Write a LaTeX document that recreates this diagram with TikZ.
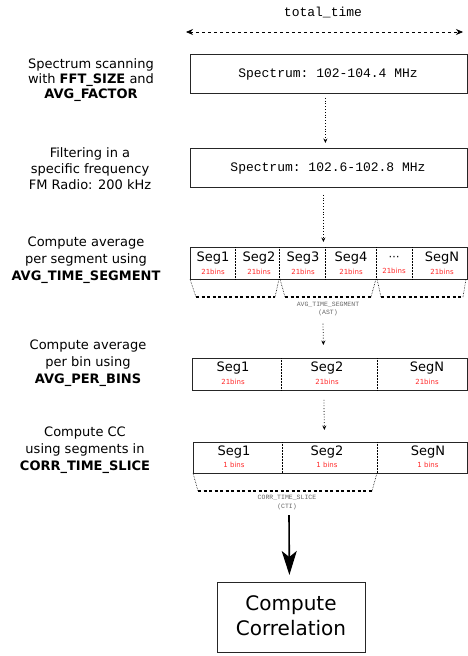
\documentclass[tikz,border=0pt]{standalone}
\usepackage{fontspec}
\setmainfont{DejaVu Sans}
\setmonofont{Liberation Mono}
\usetikzlibrary{arrows.meta}
\definecolor{binred}{RGB}{255,40,40}
\begin{document}
\begin{tikzpicture}[x=1pt,y=-1pt,
  box/.style={draw=black!85, line width=0.8pt, inner sep=0pt, anchor=north west},
  lbl/.style={align=center, inner sep=0pt, font=\fontsize{13}{16}\selectfont},
  segt/.style={inner sep=0pt, font=\fontsize{13}{15}\selectfont},
  bins/.style={inner sep=0pt, text=binred, font=\fontsize{7}{8}\selectfont},
  tinyt/.style={inner sep=0pt, text=black!60, font=\ttfamily\fontsize{6.5}{8}\selectfont},
  monot/.style={inner sep=0pt, font=\ttfamily\fontsize{13}{15}\selectfont},
  dotarr/.style={dotted, line width=0.8pt, -{Stealth[length=4.5pt,width=4pt]}},
  divl/.style={densely dotted, line width=0.5pt},
  brk/.style={line width=1.1pt, dash pattern=on 3pt off 2.5pt},
  slopel/.style={densely dotted, line width=0.6pt}]
\useasboundingbox (0,0) rectangle (468,656);

% top
\node[monot] (tt) at (323,12) {total\_time};
\coordinate (ttl) at (186,32);
\coordinate (ttr) at (463,32);
\draw[dashed, line width=0.7pt, {Stealth[length=7pt,width=6pt]}-{Stealth[length=7pt,width=6pt]}] (ttl) -- (ttr);

% left labels
\node[lbl, font=\fontsize{13}{15}\selectfont] (l1) at (91,80) {Spectrum scanning\\with \textbf{FFT\_SIZE} and\\\textbf{AVG\_FACTOR}};
\node[lbl] (l2) at (90,169) {Filtering in a\\specific frequency\\FM Radio: 200 kHz};
\node[lbl, font=\fontsize{13}{17}\selectfont] (l3) at (86,260) {Compute average\\per segment using\\\textbf{AVG\_TIME\_SEGMENT}};
\node[lbl, font=\fontsize{13}{17}\selectfont] (l4) at (88,363) {Compute average\\per bin using\\\textbf{AVG\_PER\_BINS}};
\node[lbl, font=\fontsize{13}{17}\selectfont] (l5) at (85,450) {Compute CC\\using segments in\\\textbf{CORR\_TIME\_SLICE}};

% spectrum boxes
\node[box, minimum width=277pt, minimum height=39pt] (b1) at (190,54) {};
\node[monot] (b1t) at (328,74) {Spectrum: 102-104.4 MHz};
\node[box, minimum width=277pt, minimum height=39pt] (b2) at (190,148) {};
\node[monot] (b2t) at (328,168) {Spectrum: 102.6-102.8 MHz};
\draw[dotarr] ([xshift=-3.5pt,yshift=-4pt]b1.south) -- ([xshift=-3.5pt,yshift=5pt]b2.north);

% row 1
\node[box, minimum width=277pt, minimum height=32pt] (r1) at (190,247) {};
\draw[dotarr] ([xshift=-5.5pt,yshift=-7pt]b2.south) -- ([xshift=-5.5pt,yshift=5pt]r1.north);
\foreach \x in {235,279,325,376,412} \draw[divl] (\x,247) -- (\x,279);
\foreach \n/\x/\t in {1/213/Seg1,2/259/Seg2,3/303/Seg3,4/351/Seg4,6/442/SegN}{
  \node[segt] (s1\n) at (\x,258) {\t};
  \node[bins] (k1\n) at (\x,272) {21bins};
}
\node[segt, font=\fontsize{11}{11}\selectfont] (s15) at (394,258) {⋯};
\node[bins] (k15) at (394,271) {21bins};

% brackets row 1
\draw[slopel] (190,279) -- (196,297);
\draw[brk] (196,297) -- (275,297);
\draw[slopel] (275,297) -- (279,279);
\draw[slopel] (280,279) -- (285,297);
\draw[brk] (285,297) -- (371,297);
\draw[slopel] (371,297) -- (376,279);
\draw[slopel] (377,279) -- (381,297);
\draw[brk] (381,297) -- (463,297);
\draw[slopel] (463,297) -- (466,279);
\node[tinyt] (ast1) at (328,304.5) {AVG\_TIME\_SEGMENT};
\node[tinyt] (ast2) at (328,312.5) {(AST)};

% row 2
\node[box, minimum width=275pt, minimum height=32pt] (r2) at (192,358) {};
\draw[dotarr] ([xshift=-5pt,yshift=-8pt]ast2.south) -- ([xshift=-6.5pt,yshift=13pt]r2.north);
\foreach \x in {281,377} \draw[divl] (\x,358) -- (\x,390);
\foreach \n/\x/\t in {1/233/Seg1,2/327/Seg2,3/427/SegN}{
  \node[segt] (s2\n) at (\x,368) {\t};
  \node[bins] (k2\n) at (\x,382) {21bins};
}

% row 3
\node[box, minimum width=274pt, minimum height=31pt] (r3) at (193,442) {};
\draw[dotarr] ([xshift=-6pt,yshift=-9pt]r2.south) -- ([xshift=-6pt,yshift=12pt]r3.north);
\foreach \x in {282,377} \draw[divl] (\x,442) -- (\x,473);
\foreach \n/\x/\t in {1/234/Seg1,2/327/Seg2,3/428/SegN}{
  \node[segt] (s3\n) at (\x,452) {\t};
  \node[bins] (k3\n) at (\x,465) {1 bins};
}
\draw[slopel] (193,473) -- (198,491);
\draw[brk] (198,491) -- (372,491);
\draw[slopel] (372,491) -- (377,473);
\node[tinyt] (cti1) at (287,498) {CORR\_TIME\_SLICE};
\node[tinyt] (cti2) at (287,507) {(CTI)};

% final
\node[box, minimum width=148pt, minimum height=70pt] (fin) at (217,582) {};
\node[inner sep=0pt, align=center, font=\fontsize{20}{25}\selectfont] (fint) at (291,616) {Compute\\Correlation};
\draw[line width=1.6pt, -{Stealth[length=24pt,width=15pt,inset=6pt]}] ([xshift=2pt,yshift=-5pt]cti2.south) -- ([xshift=-2pt,yshift=7pt]fin.north);
\end{tikzpicture}
\end{document}
